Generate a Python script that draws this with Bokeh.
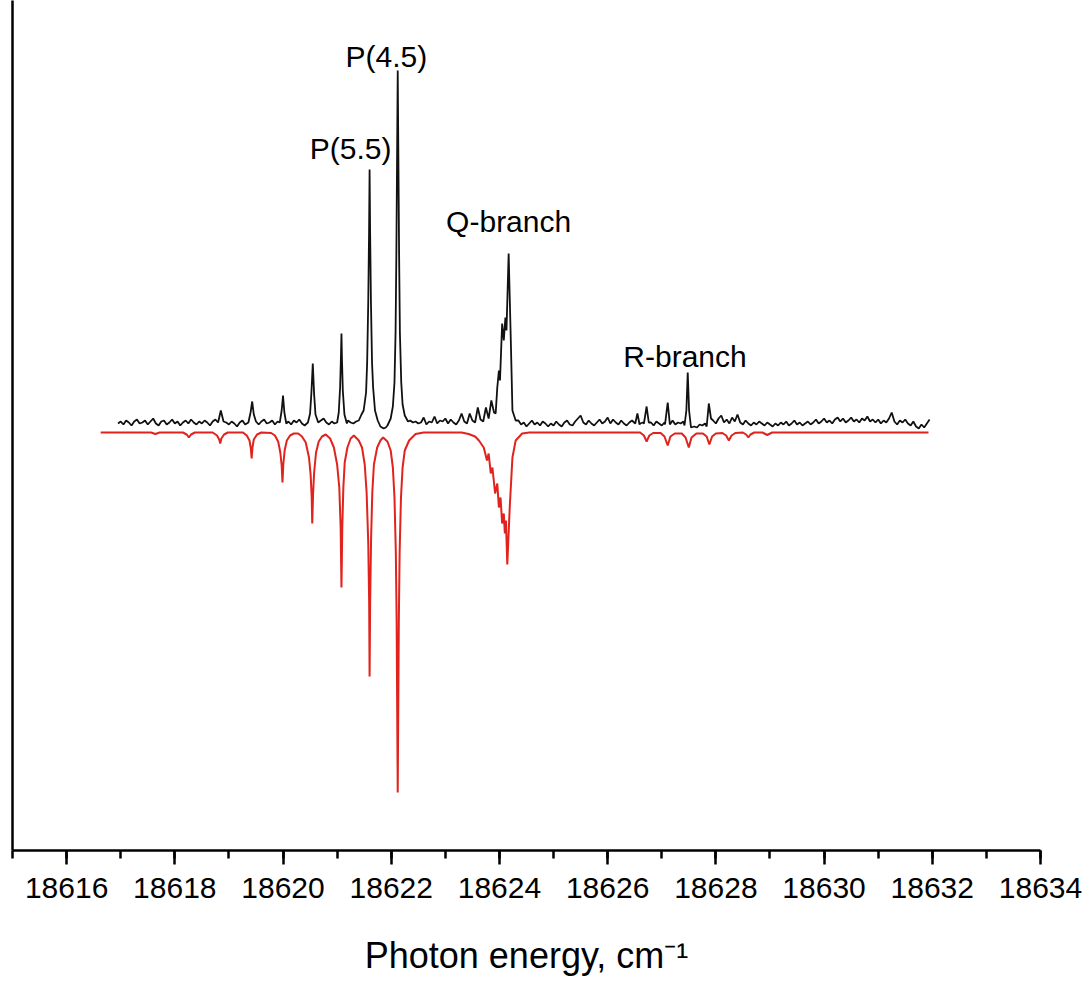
from bokeh.plotting import figure
from bokeh.models import Range1d, SingleIntervalTicker, FixedTicker, Label
from bokeh.embed import file_html
from bokeh.resources import INLINE

# ---------------- experimental spectrum (black) ----------------
# baseline + noise sampled every 0.05 cm-1 starting at 18616.95
exp_x0 = 18616.95
exp_step = 0.05
exp_noise = [
    0.09, 0.11, 0.08, 0.12, 0.10, 0.07, 0.11, 0.13, 0.09, 0.10, 0.12, 0.08, 0.11, 0.14, 0.09, 0.07, 0.11, 0.12, 0.08, 0.10,
    0.13, 0.09, 0.11, 0.07, 0.10, 0.12, 0.09, 0.13, 0.10, 0.08, 0.11, 0.09, 0.12, 0.10, 0.07, 0.11, 0.13, 0.10, 0.11, 0.12,
    0.10, 0.08, 0.11, 0.09, 0.06, 0.10, 0.12, 0.08, 0.11, 0.09, 0.12, 0.10, 0.08, 0.11, 0.13, 0.09, 0.10, 0.12, 0.08, 0.11,
    0.10, 0.12, 0.09, 0.11, 0.08, 0.12, 0.10, 0.13, 0.09, 0.07, 0.11, 0.13, 0.10, 0.08, 0.10, 0.12, 0.14, 0.10, 0.08, 0.11,
    0.09, 0.12, 0.10, 0.08, 0.11, 0.12, 0.10, 0.09, 0.11, 0.10, 0.12, 0.14, 0.16, 0.18, 0.20, 0.22, 0.25, 0.20, 0.08, 0.05,
    0.08, 0.12, 0.18, 0.25, 0.30, 0.30, 0.20, 0.15, 0.12, 0.10, 0.11, 0.09, 0.10, 0.15, 0.08, 0.11, 0.10, 0.16, 0.09, 0.12,
    0.11, 0.14, 0.09, 0.13, 0.10, 0.08, 0.12, 0.19, 0.11, 0.09, 0.19, 0.12, 0.10, 0.25, 0.13, 0.11, 0.25, 0.14, 0.32, 0.20,
    0.30, 0.40, 0.60, 0.90, 1.10, 1.20, 1.50, 0.50, 0.12, 0.08, 0.10, 0.06, 0.09, 0.12, 0.08, 0.10, 0.07, 0.11, 0.09, 0.06,
    0.09, 0.07, 0.11, 0.08, 0.06, 0.10, 0.12, 0.08, 0.07, 0.11, 0.14, 0.17, 0.10, 0.08, 0.12, 0.09, 0.07, 0.10, 0.13, 0.09,
    0.11, 0.15, 0.09, 0.13, 0.10, 0.08, 0.12, 0.09, 0.07, 0.10, 0.12, 0.08, 0.19, 0.09, 0.10, 0.26, 0.08, 0.10, 0.07, 0.11,
    0.09, 0.07, 0.10, 0.30, 0.09, 0.12, 0.08, 0.10, 0.09, 0.11, 0.08, 0.60, 0.09, 0.06, 0.05, 0.08, 0.07, 0.09, 0.29, 0.12,
    0.12, 0.09, 0.14, 0.17, 0.10, 0.13, 0.09, 0.15, 0.11, 0.18, 0.10, 0.08, 0.12, 0.09, 0.07, 0.10, 0.08, 0.11, 0.09, 0.07,
    0.10, 0.08, 0.06, 0.09, 0.07, 0.10, 0.08, 0.11, 0.07, 0.09, 0.12, 0.08, 0.10, 0.07, 0.09, 0.11, 0.08, 0.10, 0.13, 0.09,
    0.11, 0.14, 0.10, 0.12, 0.09, 0.13, 0.15, 0.11, 0.14, 0.10, 0.12, 0.15, 0.11, 0.13, 0.10, 0.14, 0.12, 0.16, 0.11, 0.13,
    0.10, 0.13, 0.09, 0.12, 0.10, 0.14, 0.20, 0.11, 0.08, 0.12, 0.10, 0.13, 0.09, 0.07, 0.11, 0.06, 0.04, 0.08, 0.05, 0.09,
    0.13,
]

# resolved lines of the experimental spectrum, (x, y) points
exp_p_peaks = [
    [(18618.80, 0.10), (18618.85, 0.22), (18618.90, 0.11)],
    [(18619.36, 0.10), (18619.40, 0.20), (18619.43, 0.31), (18619.46, 0.18), (18619.50, 0.11)],
    [(18619.94, 0.10), (18619.975, 0.22), (18620.00, 0.37), (18620.025, 0.20), (18620.06, 0.09)],
    [(18620.46, 0.10), (18620.50, 0.19), (18620.525, 0.40), (18620.55, 0.69), (18620.575, 0.38),
     (18620.60, 0.18), (18620.65, 0.10)],
    [(18621.00, 0.10), (18621.03, 0.20), (18621.055, 0.45), (18621.07, 0.75), (18621.08, 0.99),
     (18621.09, 0.72), (18621.105, 0.42), (18621.135, 0.18), (18621.18, 0.09)],
    [(18621.40, 0.12), (18621.45, 0.18), (18621.49, 0.22), (18621.535, 0.40), (18621.555, 0.70),
     (18621.575, 1.30), (18621.59, 2.00), (18621.60, 2.63), (18621.61, 2.00), (18621.625, 1.30),
     (18621.645, 0.70), (18621.665, 0.45), (18621.70, 0.22), (18621.75, 0.12), (18621.80, 0.06),
     (18621.86, 0.04)],
    [(18621.93, 0.07), (18621.99, 0.14), (18622.03, 0.26), (18622.06, 0.50), (18622.08, 1.00),
     (18622.095, 1.80), (18622.11, 2.90), (18622.12, 3.62), (18622.13, 2.90), (18622.145, 1.80),
     (18622.16, 1.00), (18622.185, 0.50), (18622.21, 0.28), (18622.25, 0.17), (18622.31, 0.11)],
]
exp_q_peak = [
    (18623.93, 0.19), (18623.96, 0.45), (18623.99, 0.62), (18624.01, 0.52), (18624.05, 1.09),
    (18624.08, 0.92), (18624.11, 1.15), (18624.13, 1.02), (18624.17, 1.79), (18624.21, 0.92),
    (18624.24, 0.22), (18624.30, 0.12),
]
exp_r_peaks = [
    [(18626.51, 0.09), (18626.55, 0.19), (18626.59, 0.08)],
    [(18626.67, 0.09), (18626.72, 0.26), (18626.76, 0.10)],
    [(18627.06, 0.08), (18627.11, 0.30), (18627.15, 0.08)],
    [(18627.42, 0.07), (18627.455, 0.22), (18627.48, 0.60), (18627.505, 0.22), (18627.54, 0.05)],
    [(18627.83, 0.06), (18627.87, 0.29), (18627.91, 0.14), (18627.95, 0.12)],
]

# ---------------- simulated spectrum (red, inverted) ----------------
sim_p_branch = [
    (18616.63, 0.0),
    (18617.56, 0.0), (18617.64, -0.015), (18617.72, 0.0),
    (18618.15, 0.0), (18618.22, -0.02), (18618.26, -0.05), (18618.30, -0.02), (18618.37, 0.0),
    (18618.70, 0.0), (18618.78, -0.03), (18618.82, -0.07), (18618.84, -0.11), (18618.86, -0.06),
    (18618.91, -0.02), (18618.98, 0.0),
    (18619.26, 0.0), (18619.33, -0.03), (18619.38, -0.08), (18619.405, -0.16), (18619.42, -0.26),
    (18619.435, -0.15), (18619.46, -0.07), (18619.52, -0.02), (18619.60, 0.0),
    (18619.78, -0.005), (18619.85, -0.03), (18619.91, -0.09), (18619.95, -0.20), (18619.975, -0.33),
    (18619.99, -0.50), (18620.005, -0.32), (18620.03, -0.18), (18620.07, -0.08), (18620.13, -0.03),
    (18620.20, -0.01),
    (18620.28, -0.01), (18620.35, -0.04), (18620.42, -0.10), (18620.48, -0.25), (18620.51, -0.42),
    (18620.53, -0.65), (18620.54, -0.91), (18620.555, -0.62), (18620.575, -0.40), (18620.61, -0.20),
    (18620.66, -0.09), (18620.72, -0.04),
    (18620.79, -0.02), (18620.87, -0.06), (18620.94, -0.15), (18621.00, -0.32), (18621.04, -0.55),
    (18621.065, -0.95), (18621.08, -1.55), (18621.095, -0.95), (18621.115, -0.55), (18621.14, -0.30),
    (18621.19, -0.15), (18621.25, -0.06),
    (18621.31, -0.03), (18621.40, -0.08), (18621.46, -0.15), (18621.51, -0.32), (18621.545, -0.60),
    (18621.575, -1.10), (18621.592, -1.70), (18621.60, -2.44), (18621.61, -1.70), (18621.628, -1.05),
    (18621.65, -0.60), (18621.68, -0.32), (18621.74, -0.15), (18621.80, -0.08),
    (18621.85, -0.05), (18621.93, -0.09), (18621.99, -0.18), (18622.03, -0.35), (18622.06, -0.65),
    (18622.085, -1.20), (18622.10, -1.90), (18622.12, -3.60), (18622.14, -1.90), (18622.155, -1.20),
    (18622.18, -0.65), (18622.21, -0.35), (18622.25, -0.18), (18622.33, -0.08), (18622.45, -0.015),
    (18622.60, 0.0),
]
sim_q_branch = [
    (18623.30, 0.0), (18623.43, -0.015), (18623.55, -0.04), (18623.62, -0.08), (18623.71, -0.15),
    (18623.77, -0.28), (18623.80, -0.21), (18623.84, -0.41), (18623.87, -0.35), (18623.92, -0.61),
    (18623.96, -0.51), (18623.99, -0.75), (18624.02, -0.65), (18624.05, -0.91), (18624.08, -0.81),
    (18624.10, -1.01), (18624.12, -0.88), (18624.145, -1.32), (18624.19, -0.75), (18624.24, -0.25),
    (18624.30, -0.08), (18624.42, -0.01), (18624.55, 0.0),
]
sim_r_branch = [
    (18626.60, 0.0), (18626.67, -0.03), (18626.72, -0.09), (18626.77, -0.03), (18626.84, -0.005),
    (18626.98, -0.005), (18627.05, -0.04), (18627.11, -0.13), (18627.16, -0.04), (18627.24, -0.01),
    (18627.37, -0.01), (18627.44, -0.05), (18627.50, -0.15), (18627.55, -0.05), (18627.64, -0.01),
    (18627.76, -0.01), (18627.83, -0.04), (18627.88, -0.12), (18627.93, -0.04), (18628.00, -0.01),
    (18628.12, -0.005), (18628.19, -0.03), (18628.24, -0.08), (18628.29, -0.03), (18628.36, -0.005),
    (18628.50, 0.0), (18628.56, -0.02), (18628.60, -0.05), (18628.64, -0.02), (18628.71, 0.0),
    (18628.86, 0.0), (18628.95, -0.025), (18629.04, 0.0),
    (18631.93, 0.0),
]

# ---------------- annotations ----------------
branch_labels = ["P(4.5)", "P(5.5)", "Q-branch", "R-branch"]
branch_label_x = [18621.91, 18621.25, 18624.17, 18627.43]
branch_label_y = [3.76, 2.84, 2.11, 0.76]

x_title = "Photon energy, cm\u207b\u00b9"

# ---------------- build series ----------------
peak_groups = exp_p_peaks + [exp_q_peak] + exp_r_peaks
spans = [(min(x for x, _ in g) - 0.01, max(x for x, _ in g) + 0.01) for g in peak_groups]
exp_pts = []
for i, y in enumerate(exp_noise):
    x = exp_x0 + i * exp_step
    if not any(a <= x <= b for a, b in spans):
        exp_pts.append((x, y))
for g in peak_groups:
    exp_pts.extend(g)
exp_pts.sort(key=lambda t: t[0])
exp_x = [t[0] for t in exp_pts]
exp_y = [t[1] for t in exp_pts]

sim_pts = sim_p_branch + sim_q_branch + sim_r_branch
sim_x = [t[0] for t in sim_pts]
sim_y = [t[1] for t in sim_pts]

# ---------------- figure ----------------
p = figure(width=1088, height=982,
           x_range=Range1d(18615, 18634), y_range=Range1d(-4.18, 4.32),
           output_backend="svg", toolbar_location=None,
           min_border_left=12, min_border_right=48,
           min_border_top=0, min_border_bottom=132)
p.background_fill_color = "white"
p.border_fill_color = "white"
p.outline_line_color = None
p.xgrid.visible = False
p.ygrid.visible = False

p.line(sim_x, sim_y, line_color="#e0231c", line_width=2.0)
p.line(exp_x, exp_y, line_color="#111111", line_width=1.8)

xa = p.xaxis[0]
xa.ticker = SingleIntervalTicker(interval=2, num_minor_ticks=2)
xa.axis_line_width = 2.5
xa.axis_line_color = "black"
xa.major_tick_line_width = 2.5
xa.minor_tick_line_width = 2.5
xa.major_tick_out = 14
xa.major_tick_in = 0
xa.minor_tick_out = 8
xa.minor_tick_in = 0
xa.major_label_text_font = "Liberation Sans"
xa.major_label_text_font_size = "30px"
xa.major_label_text_color = "black"
xa.major_label_standoff = 13
xa.axis_label = x_title
xa.axis_label_text_font = "Liberation Sans"
xa.axis_label_text_font_size = "36px"
xa.axis_label_text_font_style = "normal"
xa.axis_label_text_color = "black"
xa.axis_label_standoff = 34

ya = p.yaxis[0]
ya.ticker = FixedTicker(ticks=[])
ya.axis_line_width = 2.5
ya.axis_line_color = "black"
ya.major_tick_out = 0
ya.minor_tick_out = 0
ya.major_label_text_font_size = "0px"
ya.major_label_standoff = 0

for t, x, y in zip(branch_labels, branch_label_x, branch_label_y):
    p.add_layout(Label(x=x, y=y, text=t, text_font="Liberation Sans",
                       text_font_size="30px", text_align="center",
                       text_baseline="alphabetic", text_color="black"))

open("out.html", "w").write(file_html(p, INLINE))
